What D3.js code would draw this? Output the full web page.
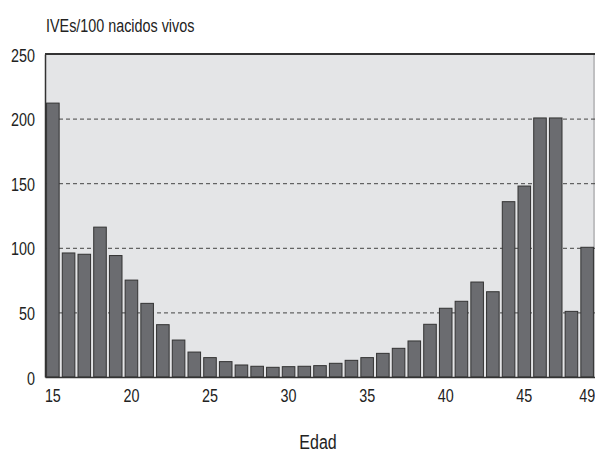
<!DOCTYPE html>
<html><head><meta charset="utf-8">
<script src="https://cdn.jsdelivr.net/npm/d3@7"></script>
<style>
html,body{margin:0;padding:0;background:#fff;}
svg{display:block;}
text{font-family:"Liberation Sans",Arial,sans-serif;fill:#222;}
</style></head>
<body><svg id="c" width="595" height="452"></svg>
<script>
const ages = [15,16,17,18,19,20,21,22,23,24,25,26,27,28,29,30,31,32,33,34,35,36,37,38,39,40,41,42,43,44,45,46,47,48,49];
const values = [212,96,95,116,94,75,57,40.5,28.6,19.3,15,11.9,9.3,8.3,7.5,8,8.3,8.8,10.6,12.9,15,18.3,22.2,27.9,40.8,53.2,58.6,73.5,66,135.7,147.8,200.5,200.5,50.8,100.4];
const yTicks = [0,50,100,150,200,250];
const gridValues = [50,100,150,200];
const xTickLabels = [15,20,25,30,35,40,45,49];
const yTitle = "IVEs/100 nacidos vivos";
const xTitle = "Edad";

const SX = 0.82; // horizontal condensing to mimic a narrow typeface
const svg = d3.select("#c");
const L=45, R=595, T=54, B=377;
const x = d3.scaleBand().domain(ages).range([L,R]).paddingInner(0.2).paddingOuter(0.1);
const y = d3.scaleLinear().domain([0,250]).range([B,T]);

svg.append("rect").attr("x",L).attr("y",T).attr("width",R-L).attr("height",B-T).attr("fill","#e4e5e7");
svg.append("line").attr("x1",R-1).attr("x2",R-1).attr("y1",T).attr("y2",B).attr("stroke","#9a9a9c").attr("stroke-width",1);

svg.append("g").selectAll("line").data(gridValues).join("line")
  .attr("x1",L).attr("x2",R).attr("y1",d=>y(d)+0.5).attr("y2",d=>y(d)+0.5)
  .attr("stroke","#444").attr("stroke-width",1).attr("stroke-dasharray","4,3");

svg.append("g").selectAll("rect").data(ages).join("rect")
  .attr("x",d=>x(d)).attr("width",x.bandwidth())
  .attr("y",(d,i)=>y(values[i])).attr("height",(d,i)=>B-y(values[i]))
  .attr("fill","#6b6c70").attr("stroke","#333").attr("stroke-width",1);

svg.append("line").attr("x1",L).attr("x2",R).attr("y1",T).attr("y2",T).attr("stroke","#333").attr("stroke-width",2);

const yAxis = d3.axisLeft(y).tickValues(yTicks).tickSize(0).tickPadding(10);
const gy = svg.append("g").attr("transform",`translate(${L},0)`).call(yAxis);
gy.select(".domain").attr("stroke","#333").attr("stroke-width",1.5);
gy.selectAll("text").attr("font-family",null).style("font-family",'"Liberation Sans",Arial,sans-serif')
  .style("font-size","17.5px").attr("fill","#222").attr("dy","0.4em")
  .attr("x",-10/SX).attr("transform",`scale(${SX},1)`);

const xAxis = d3.axisBottom(x).tickValues(xTickLabels).tickSize(0).tickPadding(13);
const gx = svg.append("g").attr("transform",`translate(0,${B})`).call(xAxis);
gx.select(".domain").attr("stroke","#333").attr("stroke-width",1.5);
gx.selectAll("text").attr("font-family",null).style("font-family",'"Liberation Sans",Arial,sans-serif')
  .style("font-size","17.5px").attr("fill","#222").attr("transform",`scale(${SX},1)`);

svg.append("g").attr("transform",`translate(46,32) scale(${SX},1)`)
  .append("text").style("font-size","17.5px").text(yTitle);
svg.append("g").attr("transform",`translate(318,449) scale(${SX},1)`)
  .append("text").attr("text-anchor","middle").style("font-size","19.5px").text(xTitle);
</script></body></html>
